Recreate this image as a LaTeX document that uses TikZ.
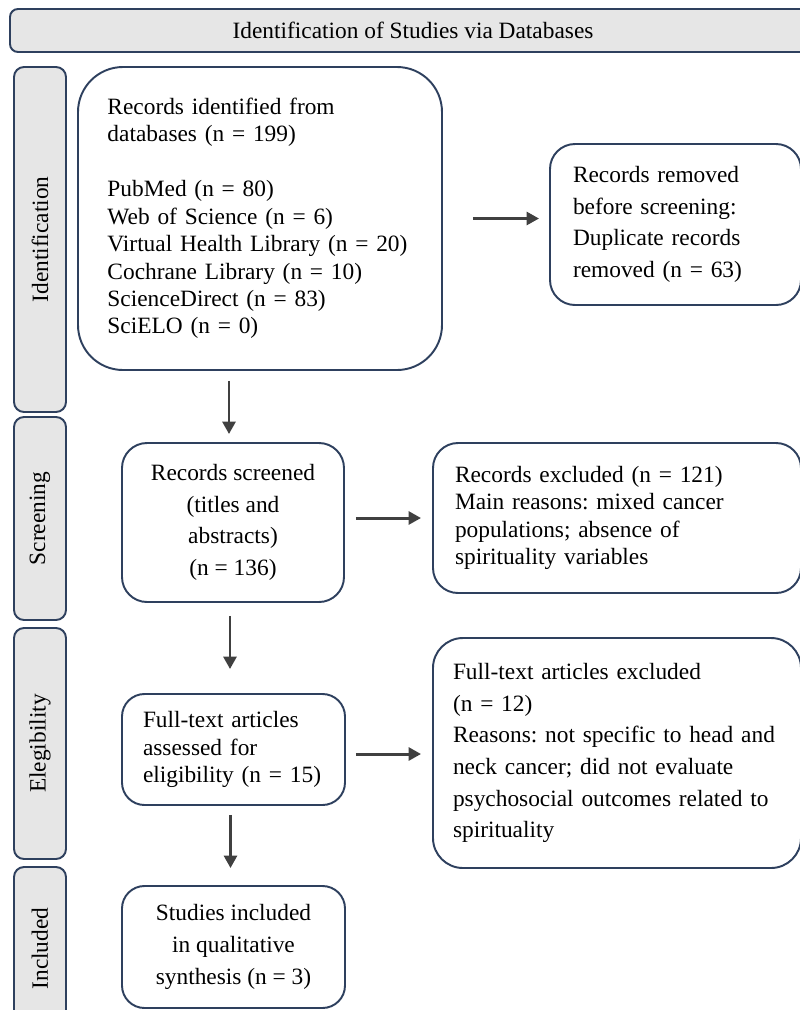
\documentclass[tikz,border=0pt]{standalone}
\usepackage{fontspec}
\setmainfont{Liberation Serif}
\frenchspacing
\definecolor{framenavy}{RGB}{46, 64, 94}
\definecolor{phasegray}{RGB}{230, 230, 230}
\definecolor{arrowgray}{RGB}{64, 64, 64}
\usetikzlibrary{arrows.meta, positioning, calc}

\begin{document}
\begin{tikzpicture}[
  phase/.style={draw=framenavy, fill=phasegray, line width=1.1pt, rounded corners=0.2cm, rotate=90, minimum height=1.04cm, inner sep=0pt, font=\fontsize{13.3}{15.6}\selectfont},
  flowbox/.style={draw=framenavy, fill=white, line width=1.1pt, rounded corners=0.5cm, inner ysep=0pt, font=\fontsize{13.3}{15.6}\selectfont},
  widebox/.style={flowbox, font=\fontsize{13.3}{18}\selectfont},
  arr/.style={draw=arrowgray, line width=1.7pt, -{Triangle[length=0.25cm, width=0.26cm]}}
]
  \fill[white] (0, 0) rectangle (16, -20.2);
  \useasboundingbox (0, 0) rectangle (16, -20.2);

  % header and phase labels
  \node[draw=framenavy, fill=phasegray, line width=1.1pt, rounded corners=0.16cm, minimum width=16.12cm, minimum height=0.86cm, font=\fontsize{13.3}{15.6}\selectfont] (head) at (8.26, -0.61) {Identification of Studies via Databases};
  \node[phase, minimum width=6.9cm] (pid) at (0.8, -4.79) {Identification};
  \node[phase, minimum width=4.06cm] (pscr) at (0.8, -10.37) {Screening};
  \node[phase, minimum width=4.62cm] (pel) at (0.8, -14.87) {Elegibility};
  \node[phase, minimum width=3.26cm] (pinc) at (0.8, -18.97) {Included};

  % flow boxes
  \node[flowbox, rounded corners=0.9cm, align=left, text width=6.1cm, inner xsep=0.59cm, minimum height=6.06cm] (ident) at (5.2, -4.37)
    {Records identified from\\ databases (n = 199)\\[0.55cm] PubMed (n = 80)\\ Web of Science (n = 6)\\ Virtual Health Library (n = 20)\\ Cochrane Library (n = 10)\\ ScienceDirect (n = 83)\\ SciELO (n = 0)};
  \node[widebox, align=left, text width=4.1cm, inner xsep=0.46cm, minimum height=3.22cm] (removed) at (13.51, -4.49)
    {Records removed\\ before screening:\\ Duplicate records\\ removed (n = 63)};
  \node[widebox, align=center, minimum width=4.44cm, minimum height=3.18cm] (screened) at (4.66, -10.45)
    {Records screened\\ (titles and\\ abstracts)\\ (n = 136)};
  \node[flowbox, align=left, text width=6.48cm, inner xsep=0.44cm, minimum height=3.0cm] (excluded) at (12.34, -10.36)
    {Records excluded (n = 121)\\ Main reasons: mixed cancer\\ populations; absence of\\ spirituality variables};
  \node[flowbox, rounded corners=0.45cm, align=left, text width=3.62cm, inner xsep=0.42cm, minimum height=2.22cm] (fulltext) at (4.67, -14.99)
    {Full-text articles\\ assessed for\\ eligibility (n = 15)};
  \node[widebox, rounded corners=0.6cm, align=left, text width=6.56cm, inner xsep=0.4cm, minimum height=4.6cm] (ftexcl) at (12.34, -15.06)
    {Full-text articles excluded\\ (n = 12)\\ Reasons: not specific to head and\\ neck cancer; did not evaluate\\ psychosocial outcomes related to\\ spirituality};
  \node[widebox, rounded corners=0.45cm, align=center, minimum width=4.46cm, minimum height=2.44cm] (included) at (4.67, -18.94)
    {Studies included\\ in qualitative\\ synthesis (n = 3)};

  % connectors
  \draw[arr, shorten <=0.2cm, shorten >=0.16cm] ([xshift=-0.08cm]screened.north |- ident.south) -- ([xshift=-0.08cm]screened.north);
  \draw[arr, shorten <=0.6cm, shorten >=0.2cm] (ident.east) -- (ident.east -| removed.west);
  \draw[arr, shorten <=0.22cm, shorten >=0.22cm] (excluded.west -| screened.east) -- (excluded.west);
  \draw[arr, shorten <=0.26cm, shorten >=0.48cm] ([xshift=-0.06cm]screened.south) -- ([xshift=-0.06cm]screened.south |- fulltext.north);
  \draw[arr, shorten <=0.2cm, shorten >=0.22cm] ([yshift=-0.09cm]fulltext.east) -- ([yshift=-0.09cm]fulltext.east -| ftexcl.west);
  \draw[arr, shorten <=0.18cm, shorten >=0.34cm] ([xshift=-0.06cm]fulltext.south) -- ([xshift=-0.06cm]included.north);
\end{tikzpicture}
\end{document}
